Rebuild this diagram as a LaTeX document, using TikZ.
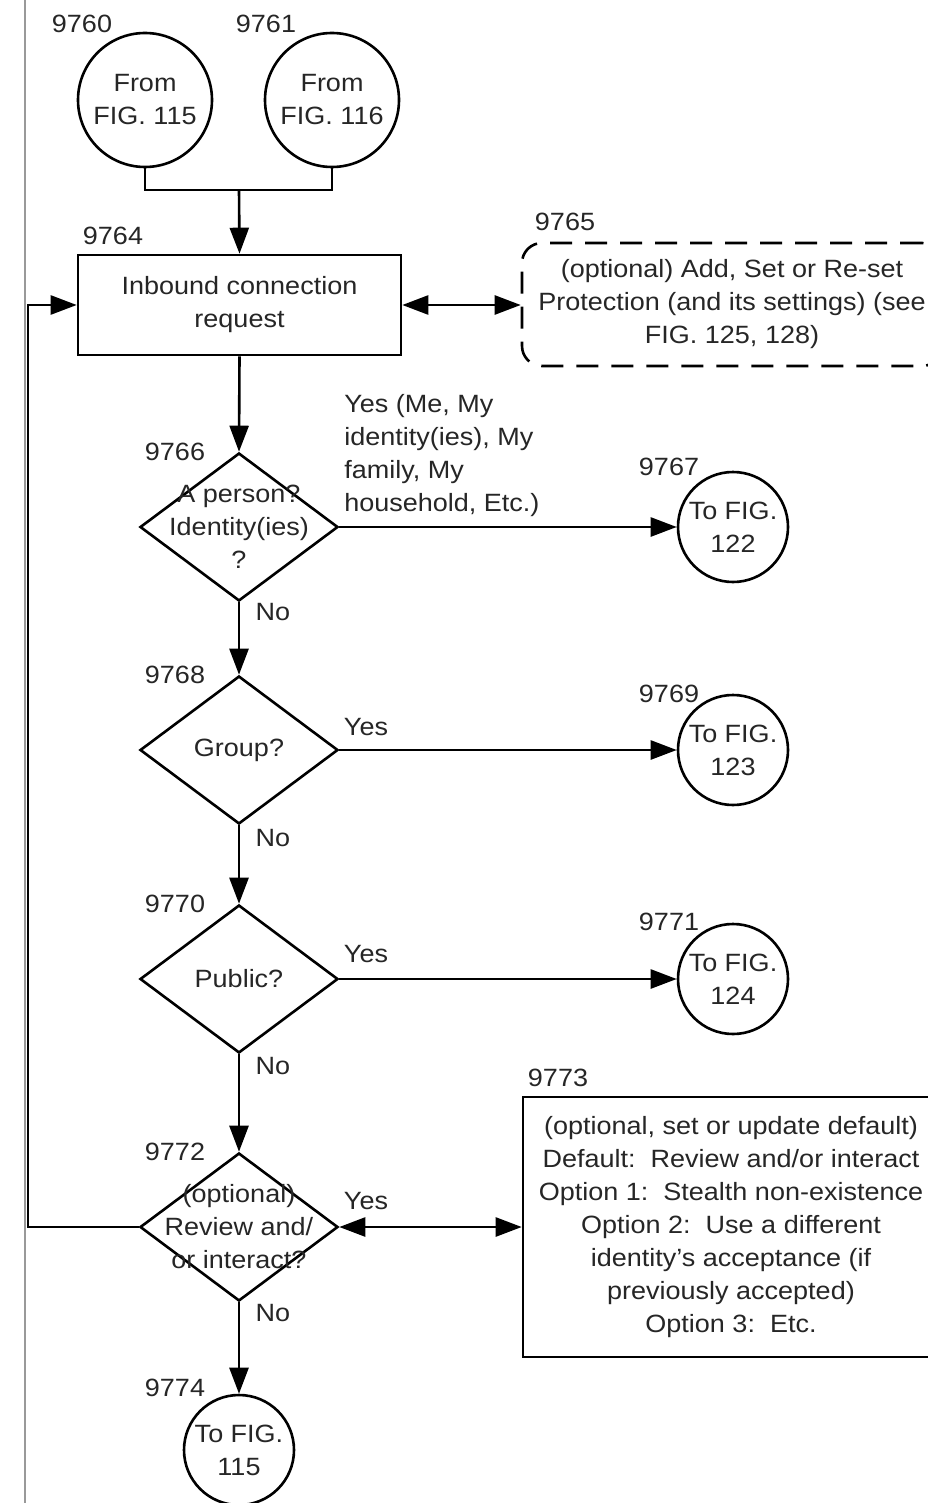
\documentclass[tikz,border=0pt]{standalone}
\usepackage{fontspec}
\setmainfont{Liberation Sans}[FakeStretch=1.08]
\usetikzlibrary{arrows.meta,shapes.geometric}

\begin{document}
\begin{tikzpicture}[x=1pt,y=-1pt,
  line width=2.6pt,
  txt/.style={font=\fontsize{25}{33}\selectfont, text=black!85, align=center, inner sep=0pt},
  tip/.tip={Triangle[length=26pt,width=19pt]},
  flow/.style={draw, -tip},
  both/.style={draw, tip-tip},
  term/.style={draw, circle, inner sep=0pt, minimum size=110pt},
  decision/.style={draw, diamond, inner sep=0pt, minimum width=198pt, minimum height=148pt},
  stepbox/.style={draw, rectangle, txt}]

\useasboundingbox (0,0) rectangle (927,1503);
\fill[white] (0,0) rectangle (927,1503);

% page margin rule
\draw[black!40, line width=1.5pt] (25,0) -- (25,1503);

% entry connectors
\node[term, minimum size=134pt] (c60) at (145,100) {};
\node[txt] (c60t) at (c60) {From\\FIG. 115};
\node[txt] (n60) at (82,24) {9760};
\node[term, minimum size=134pt] (c61) at (332,100) {};
\node[txt] (c61t) at (c61) {From\\FIG. 116};
\node[txt] (n61) at (266,24) {9761};

% inbound request
\node[stepbox, minimum width=323pt, minimum height=100pt] (b64) at (239.5,305) {Inbound connection\\request};
\node[txt] (n64) at (113,236) {9764};

\coordinate (join) at (239,190);
\draw (c60.south) |- (join) -| (c61.south);
\draw[flow] (join) -- (b64.north);

% optional protection
\node[draw, dash pattern=on 22pt off 13pt, rounded corners=20pt, txt,
      minimum width=420pt, minimum height=123pt] (b65) at (732,304.5)
      {(optional) Add, Set or Re-set\\Protection (and its settings) (see\\FIG. 125, 128)};
\node[txt] (n65) at (565,222) {9765};
\draw[both] (b64.east) -- (b64.east -| b65.west);

% decisions
\node[decision] (d66) at (239,527) {};
\node[txt] (d66t) at (d66) {A person?\\Identity(ies)\\?};
\node[txt] (n66) at (175,452) {9766};

\node[decision] (d68) at (239,750) {};
\node[txt] (d68t) at (d68) {Group?};
\node[txt] (n68) at (175,675) {9768};

\node[decision] (d70) at (239,979) {};
\node[txt] (d70t) at (d70) {Public?};
\node[txt] (n70) at (175,904) {9770};

\node[decision] (d72) at (239,1227) {};
\node[txt] (d72t) at (d72) {(optional)\\Review and/\\or interact?};
\node[txt] (n72) at (175,1152) {9772};

% exits
\node[term] (c67) at (733,527) {};
\node[txt] (c67t) at (c67) {To FIG.\\122};
\node[txt] (n67) at (669,467) {9767};

\node[term] (c69) at (733,750) {};
\node[txt] (c69t) at (c69) {To FIG.\\123};
\node[txt] (n69) at (669,694) {9769};

\node[term] (c71) at (733,979) {};
\node[txt] (c71t) at (c71) {To FIG.\\124};
\node[txt] (n71) at (669,922) {9771};

\node[term] (c74) at (239,1450) {};
\node[txt] (c74t) at (c74) {To FIG.\\115};
\node[txt] (n74) at (175,1388) {9774};

% default options box
\node[stepbox, minimum width=416pt, minimum height=260pt] (b73) at (731,1227)
  {(optional, set or update default)\\Default:\ \ Review and/or interact\\Option 1:\ \ Stealth non-existence\\Option 2:\ \ Use a different\\identity's acceptance (if\\previously accepted)\\Option 3:\ \ Etc.};
\node[txt] (n73) at (558,1078) {9773};

% flow
\draw[flow] (b64.south) -- (d66.north);
\draw[flow] (d66.east) -- (c67.west);
\draw[flow] (d66.south) -- (d68.north);
\draw[flow] (d68.east) -- (c69.west);
\draw[flow] (d68.south) -- (d70.north);
\draw[flow] (d70.east) -- (c71.west);
\draw[flow] (d70.south) -- (d72.north);
\draw[flow] (d72.south) -- (c74.north);
\draw[both] (d72.east) -- (b73.west);
\coordinate (loop) at (28,305);
\draw[flow] (d72.west) -| (loop) -- (b64.west);

% branch labels
\node[txt, align=left, anchor=west] (y66) at (343,455.5) {Yes (Me, My\\identity(ies), My\\family, My\\household, Etc.)};
\node[txt] (no66) at (273,612) {No};
\node[txt] (y68) at (366,727) {Yes};
\node[txt] (no68) at (273,838) {No};
\node[txt] (y70) at (366,954) {Yes};
\node[txt] (no70) at (273,1066) {No};
\node[txt] (y72) at (366,1201) {Yes};
\node[txt] (no72) at (273,1313) {No};

\end{tikzpicture}
\end{document}
